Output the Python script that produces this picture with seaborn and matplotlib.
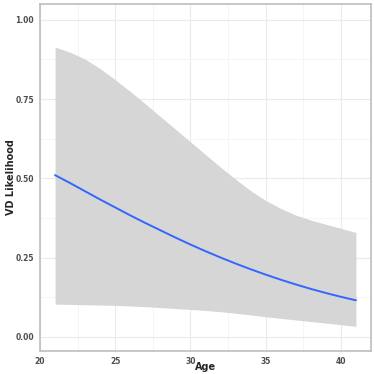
import numpy as np
import pandas as pd
import matplotlib
matplotlib.use("Agg")
import matplotlib.pyplot as plt
import seaborn as sns

# values
age = list(range(21, 42))
likelihood = [0.510, 0.485, 0.459, 0.433, 0.408, 0.383, 0.359, 0.336, 0.313, 0.291, 0.270,
              0.250, 0.231, 0.213, 0.196, 0.180, 0.165, 0.151, 0.138, 0.126, 0.115]
upper = [0.914, 0.898, 0.876, 0.846, 0.811, 0.774, 0.735, 0.695, 0.655, 0.615, 0.575,
         0.535, 0.497, 0.461, 0.430, 0.405, 0.384, 0.368, 0.355, 0.342, 0.329]
lower = [0.103, 0.102, 0.101, 0.100, 0.099, 0.097, 0.095, 0.092, 0.089, 0.086, 0.083,
         0.079, 0.074, 0.069, 0.063, 0.058, 0.053, 0.048, 0.043, 0.038, 0.033]
x_ticks = [20, 25, 30, 35, 40]
y_ticks = [0.00, 0.25, 0.50, 0.75, 1.00]
y_tick_labels = ["0.00", "0.25", "0.50", "0.75", "1.00"]

df = pd.DataFrame({"Age": age, "VD Likelihood": likelihood,
                   "upper": upper, "lower": lower})

sns.set_style("white")
plt.rcParams['font.family'] = ['DejaVu Sans']

fig = plt.figure(figsize=(3.74, 3.74), dpi=100)
ax = fig.add_axes([40 / 374, 23 / 374, 331 / 374, 347 / 374])

# grid
ax.set_xticks(x_ticks)
ax.set_xticks([22.5, 27.5, 32.5, 37.5], minor=True)
ax.set_yticks(y_ticks)
ax.set_yticks([0.125, 0.375, 0.625, 0.875], minor=True)
ax.grid(which="major", color="#ebebeb", lw=0.8)
ax.grid(which="minor", color="#f4f4f4", lw=0.6)
ax.set_axisbelow(True)

ax.fill_between(df["Age"], df["lower"], df["upper"], color="#d6d6d6", lw=0, zorder=2)
sns.lineplot(data=df, x="Age", y="VD Likelihood", color="#3366FF", lw=1.4, ax=ax, zorder=3)

ax.set_xlim(20, 42)
ax.set_ylim(-0.045, 1.05)
ax.set_yticklabels(y_tick_labels)

for s in ax.spines.values():
    s.set_color("#bdbdbd")
    s.set_linewidth(1.2)

ax.tick_params(which="major", length=2.5, width=0.6, color="#555555",
               labelsize=5.5, labelcolor="#4d4d4d", pad=2)
ax.tick_params(which="minor", length=0)
for lab in ax.get_xticklabels() + ax.get_yticklabels():
    lab.set_fontweight("bold")

ax.set_xlabel("Age", fontsize=7, fontweight="bold")
ax.set_ylabel("VD Likelihood", fontsize=7, fontweight="bold")
ax.xaxis.set_label_coords(0.5, -0.032)
ax.yaxis.set_label_coords(-0.073, 0.5)

fig.savefig("out.png", dpi=100)
